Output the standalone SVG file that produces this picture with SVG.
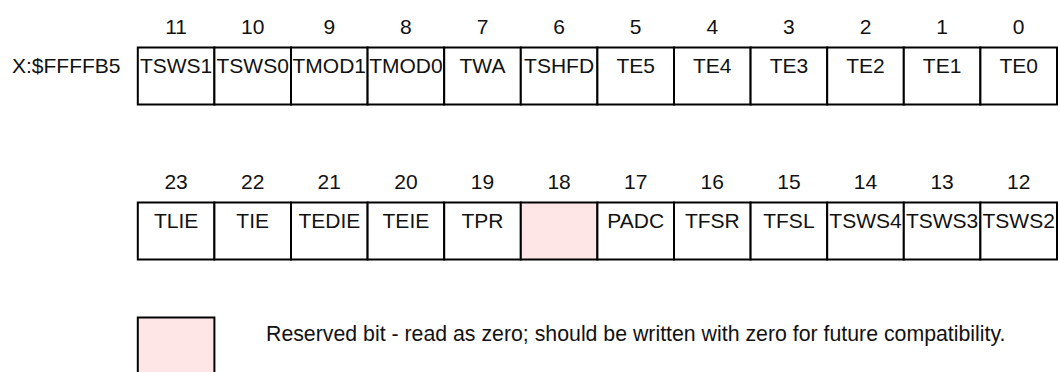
<svg xmlns="http://www.w3.org/2000/svg" width="1060" height="372" viewBox="0 0 1060 372">
<style>
.c{fill:#fff;stroke:#000;stroke-width:2}
.r{fill:#ffe6e6;stroke:#000;stroke-width:2}
text{font-family:"Liberation Sans",Arial,sans-serif;font-size:21px;fill:#111}
.m{text-anchor:middle}
.lg{font-size:21.3px}
</style>
<rect width="1060" height="372" fill="#fff"/>
<text x="12" y="73">X:$FFFFB5</text>
<g id="row0">
<g id="b11"><rect class="c" x="137.8" y="47.5" width="76.6" height="57"/><text class="m" x="176.1" y="33.5">11</text><text class="m" x="176.1" y="73">TSWS1</text></g>
<g id="b10"><rect class="c" x="214.4" y="47.5" width="76.6" height="57"/><text class="m" x="252.7" y="33.5">10</text><text class="m" x="252.7" y="73">TSWS0</text></g>
<g id="b9"><rect class="c" x="291" y="47.5" width="76.6" height="57"/><text class="m" x="329.3" y="33.5">9</text><text class="m" x="329.3" y="73">TMOD1</text></g>
<g id="b8"><rect class="c" x="367.6" y="47.5" width="76.6" height="57"/><text class="m" x="405.9" y="33.5">8</text><text class="m" x="405.9" y="73">TMOD0</text></g>
<g id="b7"><rect class="c" x="444.2" y="47.5" width="76.6" height="57"/><text class="m" x="482.5" y="33.5">7</text><text class="m" x="482.5" y="73">TWA</text></g>
<g id="b6"><rect class="c" x="520.8" y="47.5" width="76.6" height="57"/><text class="m" x="559.1" y="33.5">6</text><text class="m" x="559.1" y="73">TSHFD</text></g>
<g id="b5"><rect class="c" x="597.4" y="47.5" width="76.6" height="57"/><text class="m" x="635.7" y="33.5">5</text><text class="m" x="635.7" y="73">TE5</text></g>
<g id="b4"><rect class="c" x="674" y="47.5" width="76.6" height="57"/><text class="m" x="712.3" y="33.5">4</text><text class="m" x="712.3" y="73">TE4</text></g>
<g id="b3"><rect class="c" x="750.6" y="47.5" width="76.6" height="57"/><text class="m" x="788.9" y="33.5">3</text><text class="m" x="788.9" y="73">TE3</text></g>
<g id="b2"><rect class="c" x="827.2" y="47.5" width="76.6" height="57"/><text class="m" x="865.5" y="33.5">2</text><text class="m" x="865.5" y="73">TE2</text></g>
<g id="b1"><rect class="c" x="903.8" y="47.5" width="76.6" height="57"/><text class="m" x="942.1" y="33.5">1</text><text class="m" x="942.1" y="73">TE1</text></g>
<g id="b0"><rect class="c" x="980.4" y="47.5" width="76.6" height="57"/><text class="m" x="1018.7" y="33.5">0</text><text class="m" x="1018.7" y="73">TE0</text></g>
</g>
<g id="row1">
<g id="b23"><rect class="c" x="137.8" y="202.5" width="76.6" height="57"/><text class="m" x="176.1" y="188.5">23</text><text class="m" x="176.1" y="228">TLIE</text></g>
<g id="b22"><rect class="c" x="214.4" y="202.5" width="76.6" height="57"/><text class="m" x="252.7" y="188.5">22</text><text class="m" x="252.7" y="228">TIE</text></g>
<g id="b21"><rect class="c" x="291" y="202.5" width="76.6" height="57"/><text class="m" x="329.3" y="188.5">21</text><text class="m" x="329.3" y="228">TEDIE</text></g>
<g id="b20"><rect class="c" x="367.6" y="202.5" width="76.6" height="57"/><text class="m" x="405.9" y="188.5">20</text><text class="m" x="405.9" y="228">TEIE</text></g>
<g id="b19"><rect class="c" x="444.2" y="202.5" width="76.6" height="57"/><text class="m" x="482.5" y="188.5">19</text><text class="m" x="482.5" y="228">TPR</text></g>
<g id="b18"><rect class="r" x="520.8" y="202.5" width="76.6" height="57"/><text class="m" x="559.1" y="188.5">18</text></g>
<g id="b17"><rect class="c" x="597.4" y="202.5" width="76.6" height="57"/><text class="m" x="635.7" y="188.5">17</text><text class="m" x="635.7" y="228">PADC</text></g>
<g id="b16"><rect class="c" x="674" y="202.5" width="76.6" height="57"/><text class="m" x="712.3" y="188.5">16</text><text class="m" x="712.3" y="228">TFSR</text></g>
<g id="b15"><rect class="c" x="750.6" y="202.5" width="76.6" height="57"/><text class="m" x="788.9" y="188.5">15</text><text class="m" x="788.9" y="228">TFSL</text></g>
<g id="b14"><rect class="c" x="827.2" y="202.5" width="76.6" height="57"/><text class="m" x="865.5" y="188.5">14</text><text class="m" x="865.5" y="228">TSWS4</text></g>
<g id="b13"><rect class="c" x="903.8" y="202.5" width="76.6" height="57"/><text class="m" x="942.1" y="188.5">13</text><text class="m" x="942.1" y="228">TSWS3</text></g>
<g id="b12"><rect class="c" x="980.4" y="202.5" width="76.6" height="57"/><text class="m" x="1018.7" y="188.5">12</text><text class="m" x="1018.7" y="228">TSWS2</text></g>
</g>
<g id="connectors"/>
<g id="legend">
<rect class="r" x="137.8" y="317.5" width="76.6" height="70"/>
<text class="lg" x="266" y="341">Reserved bit - read as zero; should be written with zero for future compatibility.</text>
</g>
</svg>
